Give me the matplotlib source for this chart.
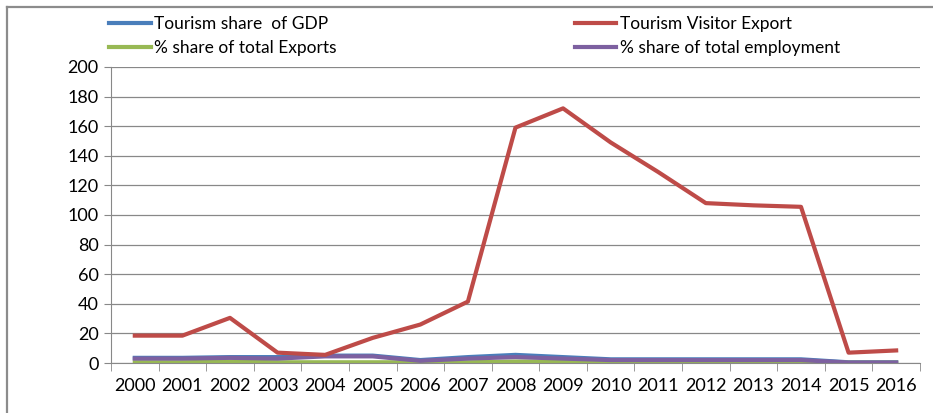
import numpy as np
import matplotlib.pyplot as plt
from matplotlib.lines import Line2D

plt.rcParams['font.family'] = ['Lato', 'DejaVu Sans']

years = [str(y) for y in range(2000, 2017)]
gdp_share = [3.5, 3.5, 4, 4, 5, 5, 2, 4, 5.5, 4, 2.5, 2.5, 2.5, 2.5, 2.5, 0.5, 0.5]
visitor_export = [18.5, 18.5, 30.5, 7, 5.5, 17, 26, 41.5, 159, 172, 149, 129, 108, 106.5, 105.5, 7, 8.5]
export_share = [0.5, 0.5, 1, 0.5, 0.5, 0.5, 0.5, 0.5, 1, 1, 0.5, 0.5, 0.5, 0.5, 0.5, 0.2, 0.2]
employment_share = [3, 3, 3.5, 3, 4.5, 4.5, 1.5, 3, 4, 3, 2, 2, 2, 2, 2, 0.3, 0.3]

fig = plt.figure(figsize=(9.33, 4.13), dpi=100)
ax = fig.add_axes([0.119, 0.121, 0.867, 0.717])

x = np.arange(len(years))
l_gdp, = ax.plot(x, gdp_share, color='#4a7ebb', lw=3, label='Tourism share  of GDP')
l_exp, = ax.plot(x, export_share, color='#98b954', lw=3, label='% share of total Exports')
l_emp, = ax.plot(x, employment_share, color='#7d60a0', lw=3, label='% share of total employment')
l_vis, = ax.plot(x, visitor_export, color='#be4b48', lw=3, label='Tourism Visitor Export')

ax.set_xlim(-0.5, len(years) - 0.5)
ax.set_ylim(0, 200)
ax.set_yticks(range(0, 201, 20))
ax.set_xticks(x)
ax.set_xticklabels(years)
ax.set_xticks(np.arange(-0.5, len(years), 1), minor=True)
ax.tick_params(axis='x', which='major', length=0, pad=11, labelsize=13)
ax.tick_params(axis='x', which='minor', length=6, color='#888888', direction='out')
ax.tick_params(axis='y', length=5, color='#888888', labelsize=13, pad=4)
ax.grid(axis='y', color='#888888', lw=0.9)
ax.set_axisbelow(True)
for s in ['top', 'right']:
    ax.spines[s].set_visible(False)
for s in ['left', 'bottom']:
    ax.spines[s].set_color('#888888')

fig.legend(handles=[l_gdp, l_exp, l_vis, l_emp], ncol=2, loc='upper left',
           bbox_to_anchor=(0.104, 0.99), frameon=False, fontsize=12.5,
           handlelength=2.4, handletextpad=0.2, columnspacing=13.7,
           labelspacing=0.45, borderaxespad=0.3)

# outer chart border
fig.add_artist(Line2D([0.0075, 1.0], [0.983, 0.983], color='#8c8c8c', lw=1.6))
fig.add_artist(Line2D([0.0075, 0.0075], [0.0, 0.983], color='#8c8c8c', lw=1.6))

fig.savefig('out.png', dpi=100)
